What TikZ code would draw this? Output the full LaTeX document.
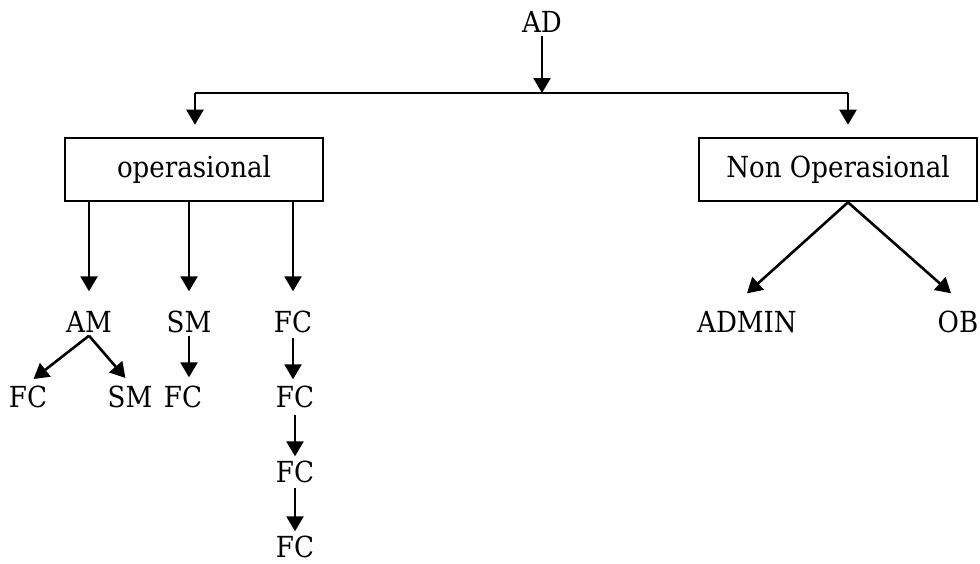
\documentclass[tikz,border=0pt]{standalone}
\usepackage{fontspec}
\setmainfont{DejaVu Serif Condensed}
\usetikzlibrary{arrows.meta}

\tikzset{x=1pt, y=-1pt}
\tikzset{
  arr/.style={-{Triangle[width=17pt,length=15pt]}, line width=2.6pt},
  box/.style={draw, line width=2.6pt, minimum height=63pt, inner sep=0pt},
  leaf/.style={inner sep=3pt, text height=21pt, text depth=0pt},
  every node/.style={font=\fontsize{29}{34}\selectfont}
}

\begin{document}
\begin{tikzpicture}
\useasboundingbox (0,0) rectangle (980,563);
% top level
\node[leaf] (ad) at (542,22) {AD};
\coordinate (jl) at (195,93);
\coordinate (jr) at (848,93);
\draw[line width=2.6pt] (jl) -- (jr);
\draw[arr] (ad.south) -- (ad |- jl);

% the two boxes
\node[box, minimum width=258pt] (op) at (194,169.5) {operasional};
\node[box, minimum width=278pt] (nop) at (838,169.5) {Non Operasional};
\draw[arr, shorten >=12pt] (jl) -- (jl |- op.north);
\draw[arr, shorten >=12pt] (jr) -- (jr |- nop.north);

% under operasional
\node[leaf] (am) at (89,322) {AM};
\node[leaf] (sm) at (189,322) {SM};
\node[leaf] (fc1) at (293,322) {FC};
\foreach \n in {am,sm,fc1}
\draw[arr, shorten >=17pt] (\n |- op.south) -- (\n.north);

\node[leaf] (fcam) at (28,397) {FC};
\node[leaf] (smam) at (130,397) {SM};
\node[leaf] (fcsm) at (183,397) {FC};
\draw[arr, shorten >=7pt] (am.south) -- (fcam.north);
\draw[arr, shorten >=7pt] (am.south) -- (smam.north);
\draw[arr, shorten >=6pt] (sm.south) -- (sm.south |- fcsm.north);

\node[leaf] (fc2) at (295,397) {FC};
\node[leaf] (fc3) at (295,472) {FC};
\node[leaf] (fc4) at (295,547) {FC};
\draw[arr, shorten >=4pt, shorten <=2pt] (fc1.south) -- (fc1.south |- fc2.north);
\draw[arr, shorten >=2pt, shorten <=4pt] (fc2.south) -- (fc3.north);
\draw[arr, shorten >=2pt, shorten <=2pt] (fc3.south) -- (fc4.north);

% under Non Operasional
\node[leaf] (admin) at (747,322) {ADMIN};
\node[leaf] (ob) at (958,322) {OB};
\draw[arr] (jr |- nop.south) -- ([yshift=15pt]admin.north);
\draw[arr] (jr |- nop.south) -- ([xshift=-7pt,yshift=15pt]ob.north);
\end{tikzpicture}
\end{document}
